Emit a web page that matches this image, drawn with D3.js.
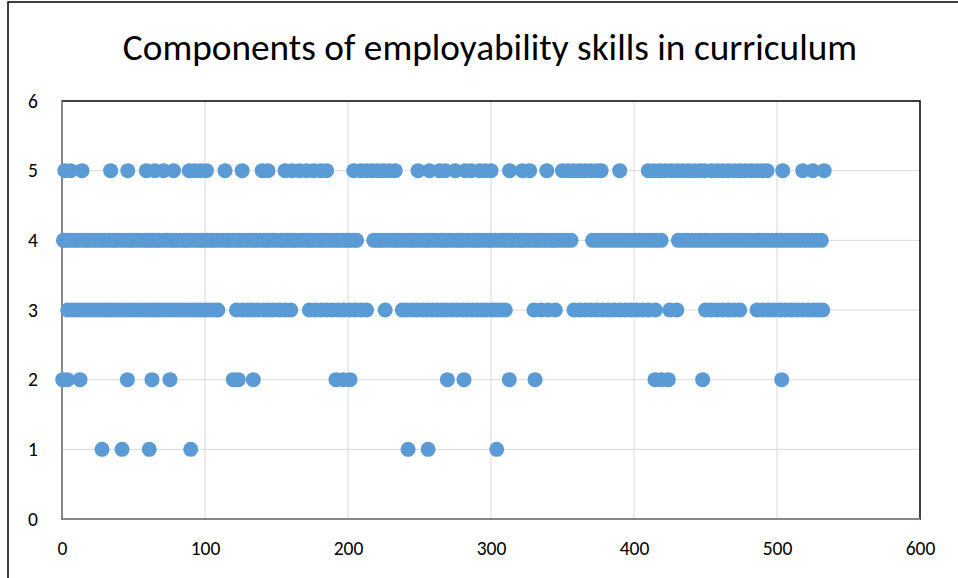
<!DOCTYPE html>
<html>
<head>
<meta charset="utf-8">
<script src="https://cdn.jsdelivr.net/npm/d3@7"></script>
<style>
  html, body { margin: 0; padding: 0; background: #fff; }
  svg { display: block; }
  text { font-family: Carlito, Calibri, Lato, "Liberation Sans", sans-serif; fill: #000; }
</style>
</head>
<body>
<script>
// ---- Data ----
const title = "Components of employability skills in curriculum";
const xTicks = [0, 100, 200, 300, 400, 500, 600];
const yTicks = [0, 1, 2, 3, 4, 5, 6];

const row1X = [28, 42, 61, 90, 242, 256, 304];
const row2X = [0.5, 3.7, 12.6, 45.7, 62.9, 75.5, 119.8, 123.3, 133.8, 191.6, 196.7, 201.4, 269.5, 281.1, 312.8, 330.8, 414.7, 419.3, 424, 448, 503.3];
const row3X = [4, 7, 10, 13, 16, 19, 22, 25, 28, 31, 34, 37, 40, 43, 46, 49, 52, 55, 58, 61, 64, 67, 70, 73, 76, 79, 82, 85, 88, 91, 94, 97, 100, 103, 106, 109,
  122, 126, 130, 133, 137, 141, 145, 148, 152, 156, 160,
  173, 177, 181, 185, 189, 193, 197, 201, 205, 209, 213,
  226,
  238, 241, 245, 248, 252, 255, 259, 262, 266, 269, 273, 276, 280, 283, 287, 290, 294, 297, 301, 304, 307, 310,
  330, 335, 340, 345,
  358, 362, 366, 370, 374, 378, 382, 386, 390, 394, 398, 402, 406, 410, 415,
  425, 430,
  450, 454, 458, 462, 466, 470, 474,
  486, 490, 494, 498, 502, 506, 510, 514, 518, 522, 526, 529, 532];
const row4X = [1, 3, 6, 9, 11, 14, 17, 19, 22, 25, 28, 30, 33, 36, 38, 41, 44, 47, 49, 52, 55, 58, 60, 63, 66, 68, 71, 74, 77, 79, 82, 85, 87, 90, 93, 96, 98, 101, 104, 106, 109, 112, 115, 117, 120, 123, 125, 128, 131, 134, 136, 139, 142, 144, 147, 150, 153, 155, 158, 161, 163, 166, 169, 172, 174, 177, 180, 182, 185, 188, 191, 193, 196, 199, 201, 204, 206,
  218, 221, 223, 226, 229, 232, 234, 237, 240, 243, 245, 248, 251, 254, 256, 259, 262, 265, 267, 270, 273, 276, 278, 281, 284, 287, 289, 292, 295, 298, 300, 303, 306, 309, 311, 314, 317, 320, 322, 325, 328, 331, 333, 336, 339, 342, 344, 347, 350, 353, 356,
  371, 374, 377, 380, 383, 386, 389, 392, 395, 398, 401, 404, 407, 410, 413, 416, 419,
  431, 434, 437, 440, 443, 446, 449, 452, 455, 458, 461, 464, 467, 470, 473, 476, 479, 482, 485, 488, 491, 494, 497, 500, 503, 506, 509, 512, 515, 518, 521, 524, 527, 531];
const row5X = [2, 6, 14, 34, 46, 59, 65, 71, 78, 89, 93, 97, 101, 114, 126, 140, 144, 156, 161, 166, 171, 176, 181, 185, 204, 209, 213, 217, 221, 225, 229, 233, 249, 257, 264, 268, 275, 282, 286, 292, 296, 300, 313, 322, 327, 339, 350, 354, 358, 362, 366, 370, 374, 377, 390, 410, 414, 418, 422, 426, 430, 434, 438, 442, 446, 449, 454, 458, 462, 466, 470, 474, 478, 482, 486, 490, 493, 504, 518, 525, 533];

const rows = [
  { y: 1, xs: row1X },
  { y: 2, xs: row2X },
  { y: 3, xs: row3X },
  { y: 4, xs: row4X },
  { y: 5, xs: row5X }
];
const points = [];
rows.forEach(r => r.xs.forEach(x => points.push({ x: x, y: r.y })));
points.sort((a, b) => a.x - b.x);

// ---- Layout ----
const W = 958, H = 578;
const plot = { left: 62, right: 920, top: 101, bottom: 519 };
const FONT = "Carlito, Calibri, Lato, 'Liberation Sans', sans-serif";

const svg = d3.select("body").append("svg").attr("width", W).attr("height", H);

// outer chart border
svg.append("rect").attr("x", 8).attr("y", 2).attr("width", 1000).attr("height", 1000)
  .attr("fill", "none").attr("stroke", "#000").attr("stroke-width", 1.5);

const x = d3.scaleLinear().domain([0, 600]).range([plot.left, plot.right]);
const y = d3.scaleLinear().domain([0, 6]).range([plot.bottom, plot.top]);

// title
svg.append("text").attr("x", 490).attr("y", 60).attr("text-anchor", "middle")
  .attr("font-size", 37.3).text(title);

// gridlines
const grid = svg.append("g");
grid.selectAll("line.v").data(xTicks.filter(d => d > 0 && d < 600)).enter().append("line")
  .attr("x1", d => x(d)).attr("x2", d => x(d)).attr("y1", plot.top).attr("y2", plot.bottom)
  .attr("stroke", "#d9d9d9").attr("stroke-width", 1);
grid.selectAll("line.h").data(yTicks.filter(d => d > 0 && d < 6)).enter().append("line")
  .attr("x1", plot.left).attr("x2", plot.right).attr("y1", d => y(d)).attr("y2", d => y(d))
  .attr("stroke", "#d9d9d9").attr("stroke-width", 1);

// plot area border
svg.append("rect").attr("x", plot.left).attr("y", plot.top)
  .attr("width", plot.right - plot.left).attr("height", plot.bottom - plot.top)
  .attr("fill", "none").attr("stroke", "#000").attr("stroke-width", 1.5);

// axis lines
svg.append("line").attr("x1", plot.left).attr("x2", plot.left).attr("y1", plot.top).attr("y2", plot.bottom)
  .attr("stroke", "#868686").attr("stroke-width", 2);
svg.append("line").attr("x1", plot.left).attr("x2", plot.right).attr("y1", plot.bottom).attr("y2", plot.bottom)
  .attr("stroke", "#868686").attr("stroke-width", 2);

// axes labels via d3 axes
const xAxis = d3.axisBottom(x).tickValues(xTicks).tickSize(0).tickPadding(0).tickFormat(d3.format("d"));
const gx = svg.append("g").attr("transform", `translate(0, ${plot.bottom + 22})`).call(xAxis);
gx.select(".domain").remove();
gx.selectAll("text").attr("font-size", 19.5).attr("fill", "#000").style("font-family", FONT);

const yAxis = d3.axisLeft(y).tickValues(yTicks).tickSize(0).tickPadding(0).tickFormat(d3.format("d"));
const gy = svg.append("g").attr("transform", `translate(${plot.left - 24}, 0)`).call(yAxis);
gy.select(".domain").remove();
gy.selectAll("text").attr("font-size", 19.5).attr("fill", "#000").style("font-family", FONT);

// points
svg.append("g").selectAll("circle").data(points).enter().append("circle")
  .attr("cx", d => x(d.x)).attr("cy", d => y(d.y)).attr("r", 7.5)
  .attr("fill", "#5b9bd5");
</script>
</body>
</html>
